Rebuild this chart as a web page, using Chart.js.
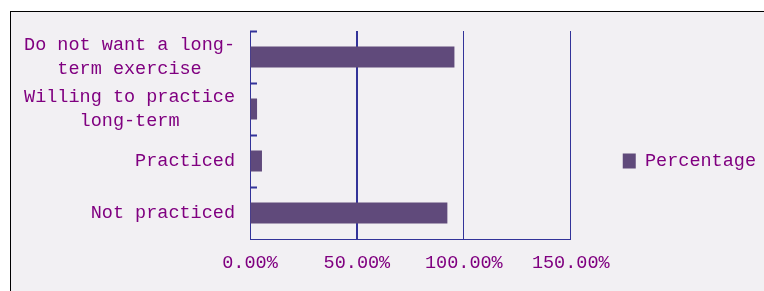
<!DOCTYPE html>
<html>
<head>
<meta charset="utf-8">
<script src="https://cdn.jsdelivr.net/npm/chart.js@4/dist/chart.umd.min.js"></script>
<style>
  html, body { margin: 0; padding: 0; background: #ffffff; }
  #frame {
    position: absolute; left: 10px; top: 11px; right: 0; bottom: 0;
    background: #f2f0f3; border-left: 1px solid #000; border-top: 1px solid #000;
  }
  #wrap { position: absolute; left: 0; top: 0; width: 764px; height: 291px; }
</style>
</head>
<body>
<div id="frame"></div>
<div id="wrap"><canvas id="surveyChart" width="764" height="291"></canvas></div>
<script>
// categories (lines padded so each label block is centred, font is monospace)
const categories = [
  ['Do not want a long-', '   term exercise   '],
  ['Willing to practice', '     long-term     '],
  'Practiced',
  'Not practiced'
];
const percentValues = [95.6, 3.3, 5.6, 92.3];
const seriesName = 'Percentage';
const xTicks = [0, 50, 100, 150];

const barColor = '#604a7b';
const lineColor = '#333399';
const textColor = '#800080';
const labelFont = { family: "'Liberation Mono', 'DejaVu Sans Mono', monospace", size: 18.5, lineHeight: 1.3 };

// short inside tick marks on the category axis
const innerTicks = {
  id: 'innerTicks',
  afterDatasetsDraw: (chart) => {
    const yScale = chart.scales.y;
    const left = chart.chartArea.left;
    const ctx = chart.ctx;
    ctx.save();
    ctx.strokeStyle = lineColor;
    ctx.lineWidth = 2;
    categories.forEach((cat, i) => {
      const y = Math.round(yScale.getPixelForValue(i - 0.5)) + 0.5;
      ctx.beginPath();
      ctx.moveTo(left, y);
      ctx.lineTo(left + 7, y);
      ctx.stroke();
    });
    ctx.restore();
  }
};

const ctx = document.querySelector('#surveyChart').getContext('2d');
const surveyChart = new Chart(ctx, {
  type: 'bar',
  data: {
    labels: categories,
    datasets: [{
      label: seriesName,
      data: percentValues,
      backgroundColor: barColor,
      borderWidth: 0,
      barPercentage: 0.4,
      categoryPercentage: 1
    }]
  },
  options: {
    indexAxis: 'y',
    responsive: false,
    animation: false,
    layout: { padding: { top: 31, left: 0, right: 3, bottom: 0 } },
    scales: {
      x: {
        min: 0,
        max: 150,
        afterBuildTicks: (scale) => { scale.ticks = xTicks.map((v) => ({ value: v })); },
        afterFit: (scale) => { scale.height = 52; },
        grid: {
          color: lineColor,
          lineWidth: (c) => (c.tick && c.tick.value === 50 ? 2 : 1),
          drawTicks: false
        },
        border: { color: lineColor, width: 1 },
        ticks: {
          padding: 12,
          color: textColor,
          font: labelFont,
          callback: (v) => Number(v).toFixed(2) + '%'
        }
      },
      y: {
        afterFit: (scale) => { scale.width = 250; },
        grid: { display: false, drawTicks: false },
        border: { color: lineColor, width: 1 },
        ticks: {
          padding: 15,
          color: textColor,
          font: labelFont
        }
      }
    },
    plugins: {
      tooltip: { enabled: false },
      legend: {
        position: 'right',
        labels: {
          boxWidth: 13,
          boxHeight: 15,
          padding: 52,
          color: textColor,
          font: labelFont
        }
      }
    }
  },
  plugins: [innerTicks]
});
</script>
</body>
</html>
